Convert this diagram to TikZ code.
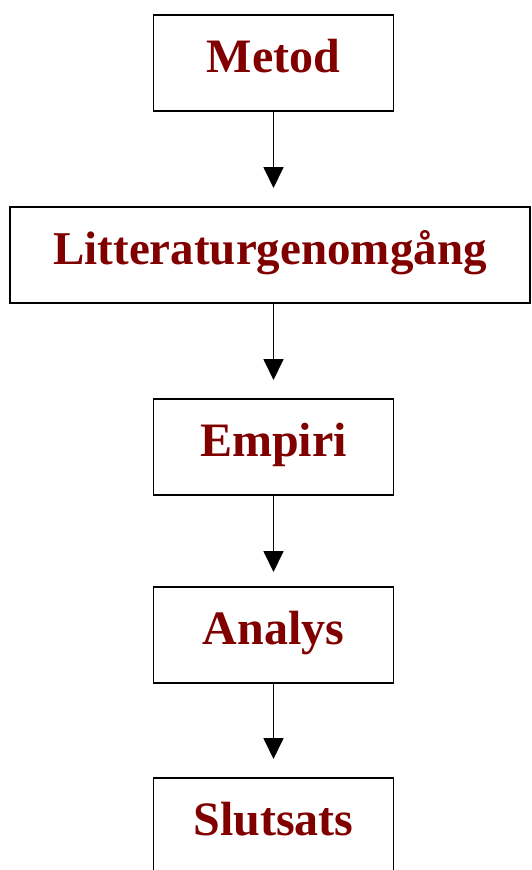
\documentclass[tikz,border=0pt]{standalone}
\usepackage{fontspec}
\setmainfont{Liberation Serif}
\usetikzlibrary{arrows.meta}
\definecolor{titlered}{RGB}{128,0,0}
\begin{document}
\begin{tikzpicture}[x=1pt,y=-1pt,
  stepbox/.style={draw=black, line width=1.8pt, rectangle, inner sep=0pt,
    minimum height=96pt, text height=40pt, text depth=22pt,
    font=\fontsize{48}{56}\selectfont\bfseries, text=titlered},
  flow/.style={line width=1.8pt, -{Triangle[length=21pt,width=20pt]}}]
\useasboundingbox (0,0) rectangle (531,870);
\begin{scope}
\clip (0,0) rectangle (531,870);
\node[stepbox, minimum width=240pt] (metod) at (273.5,63) {Metod};
\node[stepbox, minimum width=520pt] (litt) at (270,255) {\fontsize{47}{56}\selectfont Litteraturgenomgång};
\node[stepbox, minimum width=240pt] (empiri) at (273.5,447) {Empiri};
\node[stepbox, minimum width=240pt] (analys) at (273.5,635) {Analys};
\node[stepbox, minimum width=240pt] (slutsats) at (273.5,826) {Slutsats};
\coordinate (t1) at (273.5,188);
\coordinate (t2) at (273.5,380);
\coordinate (t3) at (273.5,572);
\coordinate (t4) at (273.5,759);
\draw[flow] (metod.south) -- (t1);
\draw[flow] (litt.south -| metod.south) -- (t2);
\draw[flow] (empiri.south) -- (t3);
\draw[flow] (analys.south) -- (t4);
\end{scope}
\end{tikzpicture}
\end{document}
